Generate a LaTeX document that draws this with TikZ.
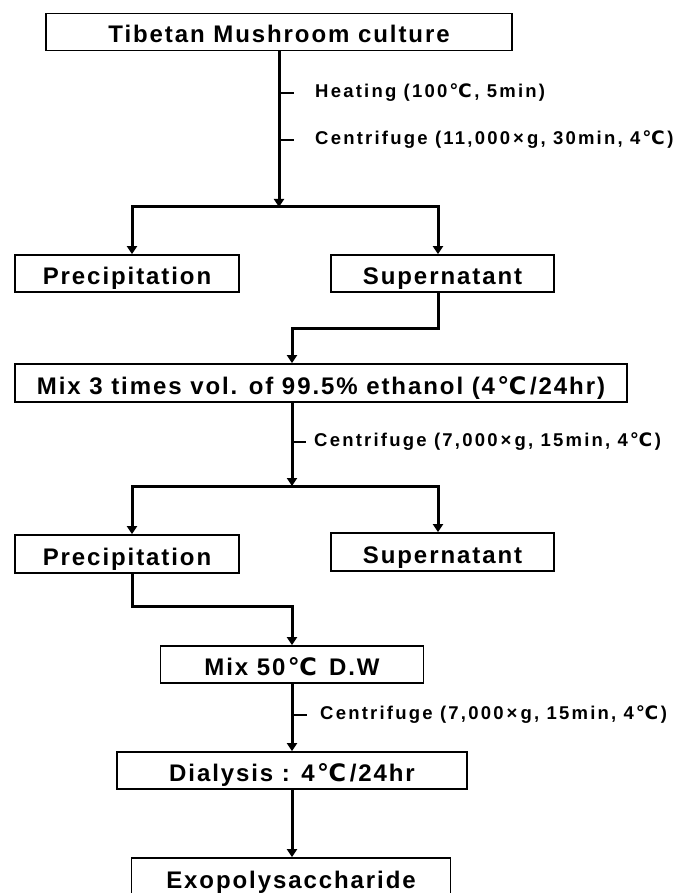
\documentclass[tikz,border=0pt]{standalone}
\usepackage{fontspec}
\setmainfont{Liberation Sans}
\newfontfamily\boxfont[LetterSpace=8]{Liberation Sans}
\newfontfamily\notefont[LetterSpace=12]{Liberation Sans}
\newfontfamily\symfont{DejaVu Sans}
\newcommand{\dgc}{{\kern0.1em\symfont ℃\kern0.15em}}
\usetikzlibrary{arrows.meta}

\begin{document}
\begin{tikzpicture}[x=1pt,y=-1pt,
	box/.style={draw, line width=1.8pt, minimum height=37pt, inner sep=0pt,
		text height=22pt, text depth=0pt,
		font=\boxfont\bfseries\fontsize{24}{28}\selectfont},
	flow/.style={line width=3pt, -{Triangle[length=8pt,width=10pt]}},
	tick/.style={line width=2pt},
	note/.style={anchor=west, inner sep=0pt,
		font=\notefont\bfseries\fontsize{18.5}{21}\selectfont}]
	\useasboundingbox (0,0) rectangle (676,893);
	
	% boxes
	\node[box, minimum width=466pt] (top) at (279,32) {Tibetan Mushroom culture};
	\node[box, minimum width=224pt] (pre1) at (127,273.5) {Precipitation};
	\node[box, minimum width=223pt] (sup1) at (442.5,273.5) {Supernatant};
	\node[box, minimum width=612pt, minimum height=38pt] (mix) at (321,383) {Mix 3 times vol. of 99.5\% ethanol (4\dgc/24hr)};
	\node[box, minimum width=224pt, minimum height=38pt] (pre2) at (127,554) {Precipitation};
	\node[box, minimum width=223pt, minimum height=38pt] (sup2) at (442.5,552) {Supernatant};
	\node[box, minimum width=263pt] (mix50) at (292,664.5) {Mix 50\dgc\ D.W};
	\node[box, minimum width=350pt] (dial) at (292,770.5) {Dialysis : 4\dgc/24hr};
	\node[box, minimum width=319pt, minimum height=38pt] (exo) at (291,877) {Exopolysaccharide};
	
	% side notes
	\node[note] (heat) at (315,93) {Heating (100\dgc, 5min)};
	\node[note] (cent1) at (315,140) {Centrifuge (11,000\,×\,g, 30min, 4\dgc)};
	\node[note] (cent2) at (314,442) {Centrifuge (7,000\,×\,g, 15min, 4\dgc)};
	\node[note] (cent3) at (320,715) {Centrifuge (7,000\,×\,g, 15min, 4\dgc)};
	
	\coordinate (fork1) at (279,207);
	\coordinate (j1) at (292,328);
	\coordinate (fork2) at (292,486);
	\coordinate (j2) at (292,606);
	
	\draw[flow] (top.south) -- (fork1);
	\draw[flow] (fork1) -| ([xshift=5pt]pre1.north);
	\draw[flow] (fork1) -| ([xshift=-4.5pt]sup1.north);
	\draw[tick] (heat.west -| top.south) -- ++(15,0);
	\draw[tick] (cent1.west -| top.south) -- ++(15,0);
	
	\draw[flow] ([xshift=-4.5pt]sup1.south) |- (j1) -- (j1 |- mix.north);
	\draw[flow] (j1 |- mix.south) -- (fork2);
	\draw[tick] (cent2.west -| fork2) -- ++(14,0);
	\draw[flow] (fork2) -| ([xshift=5pt]pre2.north);
	\draw[flow] (fork2) -| ([xshift=-4.5pt]sup2.north);
	
	\draw[flow] ([xshift=5pt]pre2.south) |- (j2) -- (j2 |- mix50.north);
	\draw[flow] (mix50.south) -- (dial.north);
	\draw[tick] (cent3.west -| mix50.south) -- ++(15,0);
	\draw[flow] (dial.south) -- (dial.south |- exo.north);
\end{tikzpicture}
\end{document}
